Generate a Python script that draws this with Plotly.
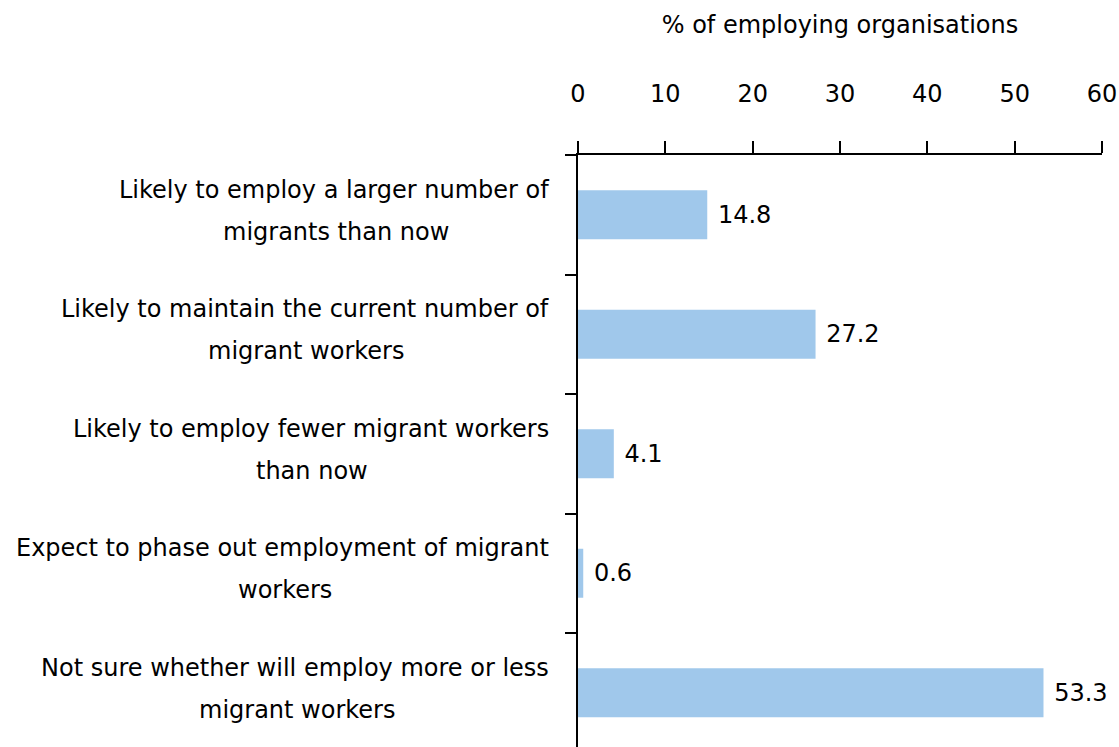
import plotly.graph_objects as go

cat_line1 = [
    "Likely to employ a larger number of",
    "Likely to maintain the current number of",
    "Likely to employ fewer migrant workers",
    "Expect to phase out employment of migrant",
    "Not sure whether will employ more or less",
]
cat_line2 = [
    "migrants than now",
    "migrant workers",
    "than now",
    "workers",
    "migrant workers",
]
values = [14.8, 27.2, 4.1, 0.6, 53.3]
x_ticks = [0, 10, 20, 30, 40, 50, 60]
x_title = "% of employing organisations"

FONT = "DejaVu Sans"
FS = 24
ids = list(range(len(values)))

# approximate DejaVu Sans advance widths (units per em = 2048), used only to
# centre the second label line under the first one
_W = {" ": 651, "a": 1255, "b": 1300, "c": 1126, "d": 1300, "e": 1260,
      "f": 721, "g": 1300, "h": 1298, "i": 569, "j": 569, "k": 1186,
      "l": 569, "m": 1995, "n": 1298, "o": 1253, "p": 1300, "q": 1300,
      "r": 842, "s": 1067, "t": 803, "u": 1298, "v": 1212, "w": 1675,
      "x": 1212, "y": 1212, "z": 1075, "E": 1294, "L": 1141, "N": 1532}


def text_width(s, size):
    return sum(_W.get(ch, 1250) for ch in s) * size / 2048.0


LABEL_GAP = 27
fig = go.Figure(go.Bar(
    x=values, y=ids, orientation="h",
    marker=dict(color="#A0C8EB", line=dict(width=0)),
    width=0.41,
    text=["\u00a0" + f"{v:.1f}" for v in values],
    textposition="outside",
    textfont=dict(family=FONT, size=FS, color="black"),
    cliponaxis=False,
))

for i, l1, l2 in zip(ids, cat_line1, cat_line2):
    w1 = text_width(l1, FS)
    fig.add_annotation(x=0, xref="paper", xanchor="right", xshift=-LABEL_GAP,
                       y=i, yref="y", yanchor="middle", yshift=25,
                       text=l1, showarrow=False,
                       font=dict(family=FONT, size=FS, color="black"))
    fig.add_annotation(x=0, xref="paper", xanchor="center",
                       xshift=-LABEL_GAP - w1 / 2.0,
                       y=i, yref="y", yanchor="middle", yshift=-17,
                       text=l2, showarrow=False,
                       font=dict(family=FONT, size=FS, color="black"))

fig.update_layout(
    width=1119, height=747,
    margin=dict(l=578, r=17, t=155, b=0),
    paper_bgcolor="white", plot_bgcolor="white",
    showlegend=False,
    font=dict(family=FONT, size=FS, color="black"),
    xaxis=dict(side="top", range=[0, 60], tickvals=x_ticks,
               ticks="outside", ticklen=12, tickwidth=2, tickcolor="black",
               showline=True, linecolor="black", linewidth=2,
               showgrid=False, zeroline=False,
               ticklabelstandoff=29,
               title=dict(text=x_title, standoff=40,
                          font=dict(family=FONT, size=FS)),
               tickfont=dict(family=FONT, size=FS)),
    yaxis=dict(type="linear", range=[4.454, -0.5],
               tickvals=[-0.5, 0.5, 1.5, 2.5, 3.5], showticklabels=False,
               ticks="outside", ticklen=11, tickwidth=2, tickcolor="black",
               showline=True, linecolor="black", linewidth=2,
               showgrid=False, zeroline=False),
)

fig.write_html(
    "out.html",
    config={"displayModeBar": False},
    post_script="document.body.style.margin='0';"
                "document.body.style.overflow='hidden';",
)
